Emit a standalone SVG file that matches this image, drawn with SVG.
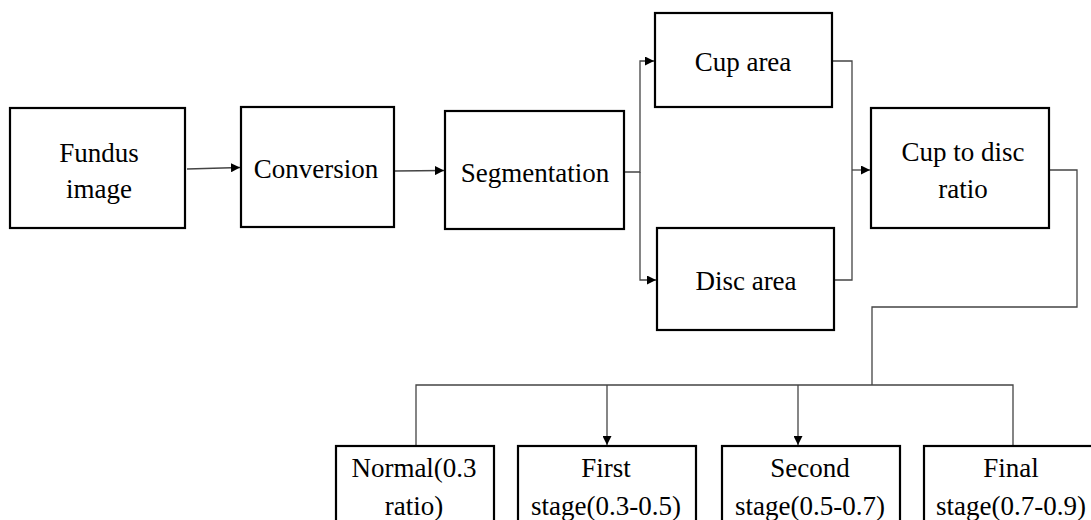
<svg xmlns="http://www.w3.org/2000/svg" width="1091" height="520" viewBox="0 0 1091 520">
<style>
.box{fill:#fff;stroke:#000;stroke-width:2.2}
.t{font-family:'Liberation Serif','DejaVu Serif',serif;font-size:27px;fill:#000;text-anchor:middle}
.c{fill:none;stroke:#444;stroke-width:1.3}
</style>
<defs>
<marker id="ah" viewBox="0 0 10 10" refX="10" refY="5" markerWidth="9" markerHeight="9" markerUnits="userSpaceOnUse" orient="auto">
<path d="M0,0 L10,5 L0,10 z" fill="#000"/>
</marker>
</defs>
<rect width="1091" height="520" fill="#fff"/>
<g id="connectors">
<path class="c" d="M187,169 L240,167.5" marker-end="url(#ah)"/>
<path class="c" d="M394,171 L444,170.5" marker-end="url(#ah)"/>
<path class="c" d="M625,172 H640 V61 H654" marker-end="url(#ah)"/>
<path class="c" d="M640,172 V280 H656" marker-end="url(#ah)"/>
<path class="c" d="M833,61 H852 V280 H835"/>
<path class="c" d="M852,170 H870" marker-end="url(#ah)"/>
<path class="c" d="M1050,170 H1077 V307 H872 V385"/>
<path class="c" d="M416,446 V385 H1013 V445"/>
<path class="c" d="M607,385 V445" marker-end="url(#ah)"/>
<path class="c" d="M798,385 V445" marker-end="url(#ah)"/>
</g>
<g id="fundus"><rect class="box" x="10" y="108" width="175" height="120"/><text class="t" x="99" y="162">Fundus</text><text class="t" x="99" y="198">image</text></g>
<g id="conversion"><rect class="box" x="241" y="107" width="153" height="120"/><text class="t" x="316" y="178">Conversion</text></g>
<g id="segmentation"><rect class="box" x="445" y="111" width="179" height="118"/><text class="t" x="535" y="182">Segmentation</text></g>
<g id="cup"><rect class="box" x="655" y="13" width="177" height="94"/><text class="t" x="743" y="71">Cup area</text></g>
<g id="disc"><rect class="box" x="657" y="228" width="177" height="102"/><text class="t" x="746" y="290">Disc area</text></g>
<g id="ratio"><rect class="box" x="871" y="108" width="178" height="120"/><text class="t" x="963" y="161">Cup to disc</text><text class="t" x="963" y="198">ratio</text></g>
<g id="normal"><rect class="box" x="336" y="446" width="158" height="80"/><text class="t" x="414" y="477">Normal(0.3</text><text class="t" x="414" y="515">ratio)</text></g>
<g id="first"><rect class="box" x="518" y="446" width="178" height="80"/><text class="t" x="606" y="477">First</text><text class="t" x="606" y="515">stage(0.3-0.5)</text></g>
<g id="second"><rect class="box" x="722" y="446" width="178" height="80"/><text class="t" x="810" y="477">Second</text><text class="t" x="810" y="515">stage(0.5-0.7)</text></g>
<g id="final"><rect class="box" x="924" y="446" width="178" height="80"/><text class="t" x="1011" y="477">Final</text><text class="t" x="1011" y="515">stage(0.7-0.9)</text></g>
</svg>
